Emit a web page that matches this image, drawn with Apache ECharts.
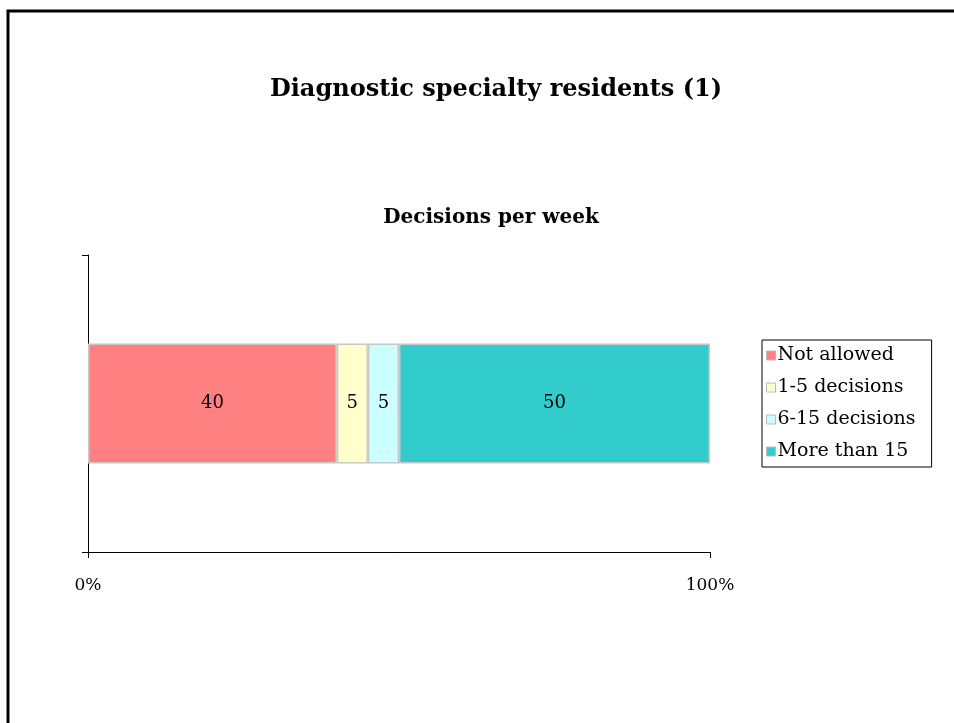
<!DOCTYPE html>
<html>
<head>
<meta charset="utf-8">
<script src="https://cdn.jsdelivr.net/npm/echarts@6/dist/echarts.min.js"></script>
<style>
html,body{margin:0;padding:0;background:#fff;}
#main{width:954px;height:723px;}
</style>
</head>
<body>
<div id="main"></div>
<script>
const categories = [''];
const seriesNames = ['Not allowed', '1-5 decisions', '6-15 decisions', 'More than 15'];
const notAllowed = [40];
const decisions1to5 = [5];
const decisions6to15 = [5];
const moreThan15 = [50];
const xTickLabels = ['0%', '100%'];

const colors = ['#FF8080', '#FFFFCC', '#CCFFFF', '#33CCCC'];
const FONT = '"DejaVu Serif", "Liberation Serif", serif';
const values = [notAllowed, decisions1to5, decisions6to15, moreThan15];

const chart = echarts.init(document.getElementById('main'));
chart.setOption({
  animation: false,
  backgroundColor: '#fff',
  title: [
    { text: 'Diagnostic specialty residents (1)', left: 491, top: 73, textAlign: 'center',
      textStyle: { fontFamily: FONT, fontWeight: 'bold', fontSize: 24, color: '#000' } },
    { text: 'Decisions per week', left: 486, top: 203, textAlign: 'center',
      textStyle: { fontFamily: FONT, fontWeight: 'bold', fontSize: 20, color: '#000' } }
  ],
  graphic: [
    { type: 'rect', shape: { x: 8, y: 11, width: 2000, height: 2000 },
      style: { fill: 'none', stroke: '#000', lineWidth: 3 }, silent: true }
  ],
  legend: {
    orient: 'vertical', left: 762, top: 340,
    data: seriesNames,
    icon: 'rect', itemWidth: 9, itemHeight: 9, itemGap: 13,
    borderColor: '#000', borderWidth: 1, padding: [6, 16, 6, 4],
    textStyle: { fontFamily: FONT, fontSize: 19, color: '#000', padding: [0, 0, 0, -3] },
    itemStyle: { borderColor: '#bbb', borderWidth: 1 }
  },
  grid: { left: 88, right: 244, top: 255, bottom: 171, containLabel: false },
  xAxis: {
    type: 'value', min: 0, max: 100, interval: 100,
    axisLine: { show: true, lineStyle: { color: '#000', width: 1 } },
    axisTick: { show: true, length: 6, lineStyle: { color: '#000' } },
    splitLine: { show: false },
    axisLabel: { margin: 25, fontFamily: FONT, fontSize: 17, color: '#000',
      formatter: function (v) { return xTickLabels[Math.round(v / 100)]; } }
  },
  yAxis: {
    type: 'category', data: categories,
    axisLine: { show: true, lineStyle: { color: '#000', width: 1 } },
    axisTick: { show: true, length: 6, alignWithLabel: false, lineStyle: { color: '#000' } },
    axisLabel: { show: false }
  },
  series: seriesNames.map(function (name, i) {
    return {
      name: name, type: 'bar', stack: 'total', barWidth: 120,
      data: values[i],
      itemStyle: { color: colors[i], borderColor: '#c8c8c8', borderWidth: 1.5 },
      label: { show: true, position: 'inside', fontFamily: FONT, fontSize: 18, color: '#000' }
    };
  })
});
</script>
</body>
</html>
